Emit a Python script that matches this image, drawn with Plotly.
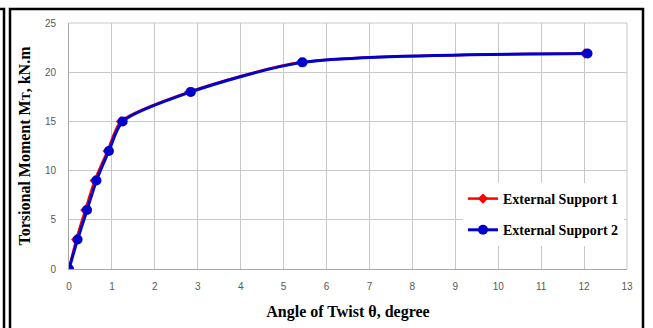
import plotly.graph_objects as go

# Data
angle_s1 = [0, 0.17, 0.38, 0.60, 0.90, 1.21, 2.80, 5.40, 12.02]
moment_s1 = [0, 3, 6, 9, 12, 15, 18, 21, 21.9]
angle_s2 = [0, 0.20, 0.42, 0.64, 0.93, 1.25, 2.84, 5.44, 12.08]
moment_s2 = [0, 3, 6, 9, 12, 15, 18, 21, 21.9]
series_names = ["External Support 1", "External Support 2"]
x_ticks = list(range(0, 14))
y_ticks = [0, 5, 10, 15, 20, 25]

# Layout in pixels
W, H = 653, 328
L, R, T, B = 69, 26, 23, 59
pw, ph = W - L - R, H - T - B

def px(x):
    return (x - L) / pw

def py(y):
    return (H - B - y) / ph

serif = "Liberation Serif"
fig = go.Figure()
fig.add_trace(go.Scatter(
    x=angle_s1, y=moment_s1, name="<b>" + series_names[0] + "</b>", mode="lines+markers",
    legendgroup="a",
    line=dict(color="#ff0000", width=2.5, shape="spline", smoothing=0.7),
    marker=dict(symbol="diamond", size=8, color="#ff0000"),
))
fig.add_trace(go.Scatter(
    x=angle_s2, y=moment_s2, name="<b>" + series_names[1] + "</b>", mode="lines+markers",
    legendgroup="b",
    line=dict(color="#0000cc", width=3, shape="spline", smoothing=0.7),
    marker=dict(symbol="circle", size=10, color="#0000cc"),
))

grid = "#c8c8c8"
fig.update_layout(
    width=W, height=H,
    margin=dict(l=L, r=R, t=T, b=B),
    paper_bgcolor="white", plot_bgcolor="white",
    showlegend=True,
    legend=dict(
        x=px(463), y=py(183), xanchor="left", yanchor="top",
        bgcolor="white", borderwidth=0,
        font=dict(family=serif, size=14, color="#000000"),
        itemwidth=30, tracegroupgap=10,
        traceorder="grouped",
    ),
    xaxis=dict(
        range=[0, 13], tickvals=x_ticks, ticktext=[str(v) for v in x_ticks],
        showgrid=True, gridcolor=grid, gridwidth=1,
        zeroline=False, showline=True, linecolor="#a6a6a6", linewidth=1,
        ticks="", ticklabelstandoff=8,
        tickfont=dict(family="Liberation Sans", size=10, color="#595959"),
        title=dict(text="<b>Angle of Twist θ, degree</b>",
                   font=dict(family=serif, size=16, color="#000000"), standoff=14),
        mirror=False,
    ),
    yaxis=dict(
        range=[0, 25], tickvals=y_ticks, ticktext=[str(v) for v in y_ticks],
        showgrid=True, gridcolor=grid, gridwidth=1,
        zeroline=False, showline=True, linecolor="#a6a6a6", linewidth=1,
        ticks="", ticklabelstandoff=10,
        tickfont=dict(family="Liberation Sans", size=10, color="#595959"),
        title=dict(text="<b>Torsional Moment M<span style='font-size:12px'>T</span>, kN.m</b>",
                   font=dict(family=serif, size=16, color="#000000"), standoff=10),
    ),
)

# outer frames
fig.add_shape(type="rect", xref="paper", yref="paper",
              x0=px(10), x1=px(643), y0=py(340), y1=py(9),
              line=dict(color="black", width=2.5), fillcolor="rgba(0,0,0,0)", layer="above")
fig.add_shape(type="path", xref="paper", yref="paper",
              path=f"M {px(-5)} {py(9)} L {px(4)} {py(9)} L {px(4)} {py(340)}",
              line=dict(color="black", width=2.5), layer="above")
# top / right grid border lines
fig.add_shape(type="line", xref="paper", yref="paper", x0=0, x1=1, y0=1, y1=1,
              line=dict(color=grid, width=1), layer="below")
fig.add_shape(type="line", xref="paper", yref="paper", x0=1, x1=1, y0=0, y1=1,
              line=dict(color=grid, width=1), layer="below")

fig.write_html("out.html")
